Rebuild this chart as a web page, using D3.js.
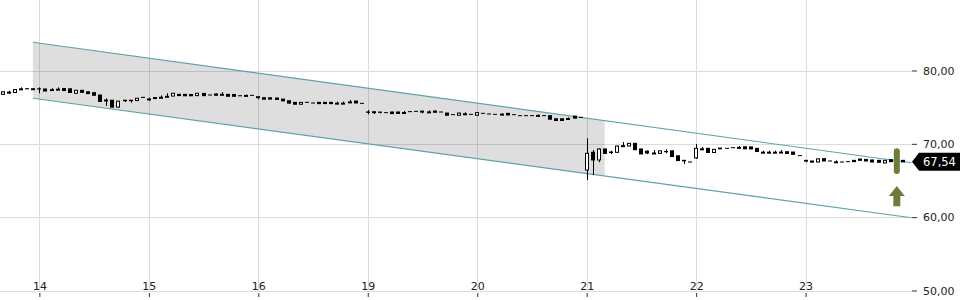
<!DOCTYPE html>
<html>
<head>
<meta charset="utf-8">
<script src="https://cdn.jsdelivr.net/npm/d3@7"></script>
<style>
  html, body { margin: 0; padding: 0; background: #fff; }
  svg { display: block; font-family: "DejaVu Sans", sans-serif; }
</style>
</head>
<body>
<svg id="chart" width="960" height="300"></svg>
<script>
// ---- data ----
const dayLabels = ["14", "15", "16", "19", "20", "21", "22", "23"];
const dayStartIndex = [6, 24, 42, 60, 78, 96, 114, 132];
const yTickValues = [50, 60, 70, 80];

const openP = [
  76.75,77.00,77.00,77.45,77.52,77.50,77.50,77.48,77.35,77.40,77.55,77.50,76.90,77.30,77.10,76.98,76.65,75.98,75.95,75.00,
  75.95,75.95,75.90,76.34,76.10,76.30,76.30,76.45,76.52,76.75,76.75,76.73,76.57,76.88,76.66,76.80,76.70,76.75,76.73,76.56,
  76.55,76.61,76.43,76.30,76.28,76.25,76.10,75.88,75.65,75.40,75.66,75.57,75.66,75.66,75.66,75.50,75.50,75.68,75.84,75.52,
  74.35,74.38,74.33,74.25,74.34,74.34,74.22,74.39,74.43,74.46,74.30,74.48,74.34,74.20,73.98,73.90,74.05,74.02,73.90,74.16,
  74.07,74.02,74.00,74.16,73.98,73.84,73.84,73.84,73.84,73.84,73.84,73.42,73.42,73.42,73.78,73.61,66.43,68.85,67.80,69.30,
  68.88,68.84,69.72,69.70,70.07,69.30,69.00,68.72,68.70,68.95,69.05,68.37,67.75,67.52,68.07,69.27,69.39,68.82,69.42,69.39,
  69.48,69.48,69.60,69.58,69.38,68.82,68.82,68.82,68.84,68.93,68.88,68.39,67.75,67.66,67.52,67.98,67.66,67.50,67.52,67.57,
  67.75,67.93,67.88,67.80,67.75,67.39,67.84,67.70,67.75
];
const highP = [
  77.15,77.25,77.45,77.70,77.55,77.54,77.70,77.50,77.60,77.70,77.60,77.57,77.35,77.32,77.12,77.00,76.70,76.20,75.98,75.85,
  75.98,75.97,76.25,76.36,76.30,76.32,76.60,76.89,76.93,76.77,76.77,76.75,76.92,76.90,76.68,76.82,77.05,76.76,76.75,76.58,
  76.72,76.63,76.45,76.32,76.30,76.27,76.12,75.90,75.67,75.66,75.68,75.59,75.68,75.68,75.68,75.75,75.75,75.98,75.86,75.54,
  74.61,74.40,74.34,74.27,74.36,74.36,74.48,74.41,74.45,74.48,74.57,74.50,74.36,74.22,74.00,74.22,74.30,74.04,74.27,74.18,
  74.09,74.04,74.16,74.18,74.00,73.86,73.86,73.86,74.00,73.86,73.86,73.44,73.44,73.61,73.80,73.63,70.75,69.16,69.40,69.35,
  69.07,69.75,70.25,70.09,70.09,69.32,69.10,69.16,69.07,69.25,69.07,68.39,67.77,67.54,69.98,69.57,69.41,69.27,69.44,69.41,
  69.50,69.70,69.62,69.60,69.40,69.07,69.07,69.07,69.16,68.95,68.90,68.41,67.77,67.68,67.98,68.00,67.68,67.75,67.54,67.59,
  67.77,67.95,67.90,67.82,67.77,67.77,67.86,67.72,67.77
];
const lowP = [
  76.70,76.80,76.95,77.42,77.48,77.47,76.90,77.18,77.33,77.38,77.25,76.98,76.88,77.00,76.84,76.60,75.75,75.16,74.98,74.97,
  75.70,75.60,75.88,76.32,75.89,76.28,76.28,76.43,76.50,76.57,76.55,76.55,76.55,76.57,76.64,76.62,76.68,76.48,76.48,76.54,
  76.53,76.59,76.07,76.07,76.08,76.03,75.84,75.52,75.39,75.39,75.64,75.55,75.48,75.48,75.48,75.48,75.48,75.66,75.57,75.50,
  74.02,74.07,74.15,74.23,74.12,74.14,74.20,74.37,74.41,74.16,74.28,74.30,74.32,73.89,73.96,73.89,74.02,74.00,73.88,74.14,
  74.05,74.00,73.98,73.93,73.96,73.82,73.82,73.82,73.82,73.82,73.34,73.16,73.16,73.40,73.48,73.59,65.07,65.75,67.50,68.60,
  68.61,68.82,69.70,69.68,69.16,68.60,68.61,68.70,68.68,68.70,68.25,67.70,67.25,67.50,67.93,69.25,68.80,68.80,69.30,69.37,
  69.46,69.46,69.30,69.28,68.93,68.80,68.80,68.80,68.80,68.66,68.57,68.37,67.48,67.50,67.50,67.66,67.64,67.48,67.50,67.55,
  67.57,67.75,67.66,67.52,67.48,67.37,67.57,67.55,67.54
];
const closeP = [
  77.10,77.05,77.40,77.50,77.50,77.52,77.48,77.20,77.40,77.45,77.27,77.00,77.30,77.02,76.85,76.62,75.78,75.85,75.00,75.82,
  75.88,75.88,76.22,76.33,76.12,76.31,76.35,76.48,76.90,76.58,76.55,76.55,76.90,76.57,76.66,76.62,76.75,76.48,76.48,76.55,
  76.60,76.61,76.30,76.08,76.10,76.05,75.86,75.55,75.40,75.65,75.66,75.57,75.48,75.49,75.48,75.55,75.55,75.72,75.57,75.52,
  74.30,74.25,74.30,74.25,74.12,74.14,74.27,74.39,74.43,74.33,74.36,74.30,74.34,73.90,73.98,74.20,74.10,74.02,74.25,74.16,
  74.07,74.02,74.05,73.93,73.98,73.84,73.84,73.84,73.88,73.84,73.36,73.18,73.18,73.45,73.50,73.61,68.71,67.80,69.30,68.70,
  68.82,69.70,69.75,70.07,69.20,68.62,68.75,68.75,69.05,68.93,68.27,67.72,67.68,67.52,69.39,69.32,68.82,69.25,69.32,69.39,
  69.48,69.52,69.32,69.30,68.95,68.86,68.86,68.86,68.88,68.68,68.57,68.39,67.65,67.50,67.95,67.66,67.66,67.55,67.52,67.57,
  67.57,67.75,67.66,67.52,67.48,67.75,67.57,67.55,67.54
];

// trend channel (index positions, upper and lower values)
const channelIndex = [4.93, 149.4];
const channelUpper = [83.85, 67.43];
const channelLower = [76.21, 59.93];
const shadeEndIndex = 98.96;

const lastPrice = 67.54;
// signal marker
const signalIndex = 147;
const signalRange = [65.9, 69.4];
const arrowRange = [61.5, 64.25];

// ---- layout ----
const svg = d3.select("#chart");
const W = 960, H = 300;
const plotRight = 912;
const n = openP.length;

const x = d3.scaleLinear().domain([0, n - 1]).range([2.9, 902.9]);
const y = d3.scaleLinear().domain([50, 80]).range([290.5, 70.5]);
const upAt = d3.scaleLinear().domain(channelIndex).range(channelUpper);
const loAt = d3.scaleLinear().domain(channelIndex).range(channelLower);
const fmt = v => d3.format(".2f")(v).replace(".", ",");

// grid
const grid = svg.append("g");
grid.selectAll("line.h").data(yTickValues).join("line")
  .attr("x1", 0).attr("x2", plotRight)
  .attr("y1", d => Math.round(y(d)) + 0.5).attr("y2", d => Math.round(y(d)) + 0.5)
  .attr("stroke", "#dcdcdc").attr("stroke-width", 1);
grid.selectAll("line.v").data(dayStartIndex).join("line")
  .attr("x1", d => Math.round(x(d)) + 0.5).attr("x2", d => Math.round(x(d)) + 0.5)
  .attr("y1", 0).attr("y2", y(50))
  .attr("stroke", "#dcdcdc").attr("stroke-width", 1);

// shaded channel part
const s0 = channelIndex[0], s1 = shadeEndIndex;
svg.append("path")
  .attr("d", `M${x(s0)},${y(upAt(s0))}L${x(s1)},${y(upAt(s1))}L${x(s1)},${y(loAt(s1))}L${x(s0)},${y(loAt(s0))}Z`)
  .attr("fill", "#000").attr("fill-opacity", 0.13);

// channel lines
const line = d3.line().x(d => x(d[0])).y(d => y(d[1]));
svg.append("path").attr("d", line(channelIndex.map((c, i) => [c, channelUpper[i]])))
  .attr("fill", "none").attr("stroke", "#5fa3a8").attr("stroke-width", 1.1);
svg.append("path").attr("d", line(channelIndex.map((c, i) => [c, channelLower[i]])))
  .attr("fill", "none").attr("stroke", "#5fa3a8").attr("stroke-width", 1.1);

// candles
const candles = d3.range(n).map(i => ({ i, o: openP[i], h: highP[i], l: lowP[i], c: closeP[i] }));
const cg = svg.append("g").selectAll("g").data(candles).join("g");
cg.append("line")
  .attr("x1", d => Math.round(x(d.i)) + 0.5).attr("x2", d => Math.round(x(d.i)) + 0.5)
  .attr("y1", d => y(d.h)).attr("y2", d => y(d.l))
  .attr("stroke", "#000").attr("stroke-width", 1);
// up candles: hollow
cg.filter(d => d.c > d.o).append("rect")
  .attr("x", d => Math.round(x(d.i)) - 1.5)
  .attr("width", 3)
  .attr("y", d => y(d.c))
  .attr("height", d => Math.max(1, y(d.o) - y(d.c)))
  .attr("fill", "#fff").attr("stroke", "#000").attr("stroke-width", 1);
// down / flat candles: filled
cg.filter(d => d.c <= d.o).append("rect")
  .attr("x", d => Math.round(x(d.i)) - 2)
  .attr("width", 4)
  .attr("y", d => y(d.o) - 0.5)
  .attr("height", d => Math.max(1, y(d.c) - y(d.o) + 1))
  .attr("fill", "#000");

// signal marker
const sx = x(signalIndex);
svg.append("rect")
  .attr("x", sx - 3).attr("width", 6)
  .attr("y", y(signalRange[1])).attr("height", y(signalRange[0]) - y(signalRange[1]))
  .attr("rx", 3).attr("fill", "#6b7c3b");
const aTop = y(arrowRange[1]), aBot = y(arrowRange[0]);
svg.append("path")
  .attr("d", `M${sx},${aTop}L${sx + 8},${aTop + 10}L${sx + 3.5},${aTop + 10}L${sx + 3.5},${aBot}L${sx - 3.5},${aBot}L${sx - 3.5},${aTop + 10}L${sx - 8},${aTop + 10}Z`)
  .attr("fill", "#6b7c3b");

// y axis (right)
const yAxis = svg.append("g").attr("transform", `translate(${plotRight},0)`)
  .call(d3.axisRight(y).tickValues(yTickValues).tickSize(5).tickPadding(6).tickFormat(fmt));
yAxis.select(".domain").remove();
yAxis.selectAll(".tick line").attr("stroke", "#333");
yAxis.selectAll(".tick text").attr("fill", "#222").attr("font-size", 11).attr("font-family", "DejaVu Sans");

// x axis
const xAxis = svg.append("g").attr("transform", `translate(0,${Math.round(y(50)) + 0.5})`)
  .call(d3.axisBottom(x).tickValues(dayStartIndex).tickSize(4).tickFormat((d, k) => dayLabels[k]));
xAxis.select(".domain").remove();
xAxis.selectAll(".tick line").attr("stroke", "#333").attr("y1", 1.5).attr("y2", 5.5);
xAxis.selectAll(".tick text").attr("fill", "#222").attr("font-size", 11).attr("font-family", "DejaVu Sans")
  .attr("y", -1.5).attr("dy", 0);

// last price label
const ly = y(lastPrice);
svg.append("path")
  .attr("d", `M${plotRight},${ly}L${plotRight + 7},${ly - 9}L${W},${ly - 9}L${W},${ly + 9}L${plotRight + 7},${ly + 9}Z`)
  .attr("fill", "#000");
svg.append("text").attr("x", plotRight + 11).attr("y", ly).attr("dy", "0.36em")
  .attr("fill", "#fff").attr("font-size", 11.5).attr("font-family", "DejaVu Sans")
  .text(fmt(lastPrice));
</script>
</body>
</html>
